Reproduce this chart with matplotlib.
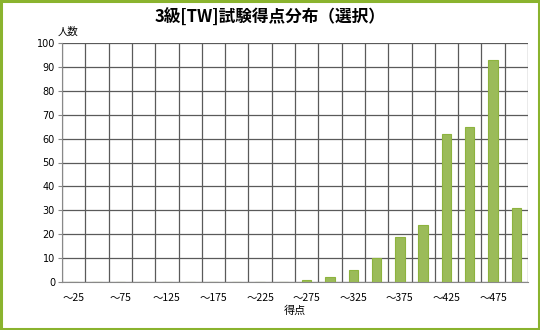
import matplotlib
matplotlib.use("Agg")
import matplotlib.pyplot as plt
from matplotlib.patches import Rectangle

plt.rcParams['font.family'] = ['Noto Sans CJK JP', 'DejaVu Sans']

categories = ["～%d" % v for v in range(25, 525, 25)]
counts = [0, 0, 0, 0, 0, 0, 0, 0, 0, 0, 1, 2, 5, 10, 19, 24, 62, 65, 93, 31]
yticks = list(range(0, 110, 10))

fig = plt.figure(figsize=(5.4, 3.3), dpi=100)
ax = fig.add_axes([62/540, 1-282/330, (528-62)/540, (282-43)/330])

x = list(range(len(categories)))
ax.bar(x, counts, width=0.4, color="#9BBB59", edgecolor="#8DB33E", linewidth=0.8, zorder=3)

ax.set_xlim(-0.5, len(categories) - 0.5)
ax.set_ylim(0, 100)
ax.set_yticks(yticks)
ax.set_yticklabels([str(v) for v in yticks], fontsize=7, family=['DejaVu Sans'])
ax.set_xticks(x[::2])
ax.set_xticklabels(categories[::2], fontsize=7.5)
for b in range(len(categories) + 1):
    ax.axvline(b - 0.5, color="#5a5a5a", linewidth=0.9, zorder=1)
ax.grid(axis='y', color="#5a5a5a", linewidth=0.9, zorder=1)
ax.set_axisbelow(True)
for s in ['top', 'right']:
    ax.spines[s].set_visible(False)
ax.spines['left'].set_color("#888888")
ax.spines['bottom'].set_color("#888888")
ax.tick_params(axis='y', length=3, color="#888888", pad=2)
ax.tick_params(axis='x', length=0, pad=8)

ax.set_xlabel("得点", fontsize=8, labelpad=2)
fig.text(68/540, 1-32/330, "人数", fontsize=7.5, ha='center', va='center')
fig.text(270/540, 1-18/330, "3級[TW]試験得点分布（選択）", fontsize=12, fontweight='bold', ha='center', va='center')

fig.patches.append(Rectangle((0.002, 0.003), 0.996, 0.994, transform=fig.transFigure,
                             fill=False, edgecolor="#8AB32E", linewidth=2.2))

fig.savefig("out.png", dpi=100)
